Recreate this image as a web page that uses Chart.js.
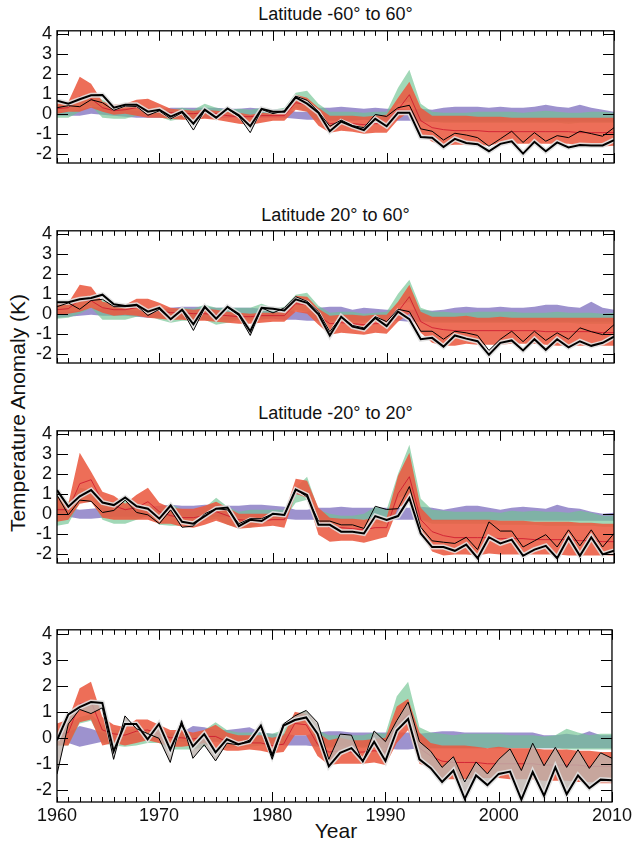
<!DOCTYPE html>
<html>
<head>
<meta charset="utf-8">
<script src="https://cdn.jsdelivr.net/npm/chart.js@4.4.1/dist/chart.umd.min.js"></script>
<style>
  body { margin: 0; background: #fff; }
  #page { position: relative; width: 635px; height: 844px; font-family: "Liberation Sans", Arial, sans-serif; color: #111; }
  canvas { position: absolute; left: 0; }
  .ttl { position: absolute; left: 57px; width: 557px; text-align: center; font-size: 18px; line-height: 18px; }
  .axt { position: absolute; font-size: 21px; line-height: 24px; text-align: center; }
</style>
</head>
<body>
<div id="page">
  <div class="ttl" style="top:5px">Latitude -60° to 60°</div>
  <div class="ttl" style="top:206px">Latitude 20° to 60°</div>
  <div class="ttl" style="top:404px">Latitude -20° to 20°</div>
  <div class="axt" style="left:-132px; top:401px; width:300px; transform:rotate(-90deg)">Temperature Anomaly (K)</div>
  <div class="axt" style="left:236px; top:819px; width:200px">Year</div>
  <canvas id="c1" width="635" height="198" style="top:15px"></canvas>
  <canvas id="c2" width="635" height="198" style="top:215px"></canvas>
  <canvas id="c3" width="635" height="198" style="top:415px"></canvas>
  <canvas id="c4" width="635" height="228" style="top:614px"></canvas>
</div>
<script>
// years on the x axis (one point per year)
var years = [];
for (var yr = 1961; yr <= 2010; yr++) years.push(yr);

var xTickVals = [1961, 1970, 1980, 1990, 2000, 2010];
var xTickLabels = ['1960', '1970', '1980', '1990', '2000', '2010'];
var yTickVals = [-2, -1, 0, 1, 2, 3, 4];

// ---- Latitude -60 to 60 ----
var p1Thick = [0.65,0.5,0.72,0.92,0.93,0.3,0.45,0.45,0.1,0.2,
  -0.15,0.1,-0.5,0.2,-0.2,0.26,-0.08,-0.63,0.24,0.1,
  0.1,0.82,0.5,0.05,-0.88,-0.39,-0.63,-0.82,-0.26,-0.63,
  0.05,0.05,-1.17,-1.2,-1.67,-1.26,-1.47,-1.53,-1.88,-1.51,
  -1.38,-2.0,-1.41,-1.88,-1.44,-1.69,-1.57,-1.59,-1.59,-1.32];
var p1Thin = [0.3,0.4,0.35,0.7,0.55,0.17,0.38,0.36,-0.08,0.14,
  -0.26,0.05,-0.82,0.17,-0.2,0.24,-0.14,-0.95,0.21,0.0,
  0.14,0.88,0.67,0.1,-0.63,-0.32,-0.6,-0.7,-0.04,-0.14,
  0.3,0.42,-0.76,-0.88,-1.32,-0.98,-1.07,-1.2,-1.63,-1.26,
  -0.88,-1.44,-0.95,-1.38,-1.1,-1.2,-0.88,-1.0,-1.13,-0.7];
var p1PurLo = [-0.1,-0.1,-0.1,0.0,-0.05,-0.1,-0.15,-0.2,-0.2,-0.2,
  -0.2,-0.2,-0.25,-0.2,-0.25,-0.2,-0.2,-0.25,-0.2,-0.2,
  -0.2,-0.25,-0.3,-0.3,-0.35,-0.35,-0.35,-0.3,-0.35,-0.35,
  -0.35,-0.35,-0.4,-0.4,-0.4,-0.4,-0.4,-0.4,-0.4,-0.4,
  -0.4,-0.4,-0.4,-0.4,-0.4,-0.4,-0.4,-0.4,-0.4,-0.4];
var p1PurHi = [0.1,0.1,0.2,0.35,0.3,0.2,0.2,0.15,0.15,0.2,
  0.3,0.3,0.3,0.3,0.3,0.25,0.25,0.3,0.25,0.2,
  0.25,0.1,0.1,0.3,0.3,0.35,0.3,0.25,0.3,0.25,
  0.25,0.2,0.25,0.2,0.3,0.35,0.35,0.35,0.3,0.35,
  0.3,0.3,0.35,0.45,0.35,0.3,0.45,0.3,0.2,0.1];
var p1GrnLo = [-0.2,-0.2,0.1,0.4,-0.2,-0.25,-0.25,-0.1,0.0,-0.15,
  -0.35,-0.25,-0.25,-0.15,0.0,-0.1,-0.2,-0.3,-0.15,-0.1,
  -0.05,0.3,0.1,-0.4,-0.3,-0.3,-0.3,-0.3,-0.3,-0.3,
  0.5,0.6,-0.35,-0.4,-0.45,-0.45,-0.45,-0.45,-0.45,-0.45,
  -0.45,-0.45,-0.45,-0.45,-0.45,-0.5,-0.45,-0.45,-0.45,-0.45];
var p1GrnHi = [0.5,0.5,0.8,1.0,0.7,0.4,0.45,0.5,0.3,0.3,
  0.2,0.3,0.2,0.5,0.3,0.2,0.25,0.2,0.3,0.2,
  0.3,1.05,1.15,0.5,0.1,0.1,0.1,0.05,0.1,0.1,
  1.3,2.2,0.5,0.1,0.05,0.05,0.05,0.1,0.1,0.1,
  0.1,0.05,0.1,0.15,0.1,0.05,0.05,0.1,0.1,0.05];
var p1RedLo = [0.0,0.1,0.1,0.3,0.1,-0.05,0.0,-0.1,-0.2,-0.2,
  -0.25,-0.3,-0.3,-0.25,-0.3,-0.4,-0.5,-0.55,-0.45,-0.35,
  -0.35,0.2,0.1,-0.6,-0.95,-0.85,-0.9,-1.0,-0.95,-0.95,
  -0.3,0.1,-1.0,-1.4,-1.6,-1.55,-1.55,-1.55,-1.6,-1.45,
  -1.5,-1.5,-1.5,-1.5,-1.5,-1.5,-1.6,-1.6,-1.65,-1.6];
var p1RedHi = [0.5,0.6,1.85,1.5,0.6,0.45,0.5,0.7,0.75,0.5,
  0.25,0.2,0.15,0.2,0.15,0.1,0.05,-0.05,0.05,0.0,
  0.1,0.95,0.8,0.3,-0.1,-0.1,-0.1,-0.15,-0.1,-0.05,
  0.8,1.6,0.3,-0.1,-0.1,-0.1,-0.1,-0.15,-0.15,-0.15,
  -0.2,-0.2,-0.2,-0.2,-0.2,-0.2,-0.2,-0.2,-0.2,-0.2];
var p1RedMid = [0.25,0.3,0.85,0.75,0.3,0.15,0.2,0.3,0.2,0.15,
  0.05,0.0,0.0,0.05,0.0,-0.1,-0.15,-0.15,-0.1,-0.1,
  -0.1,0.55,0.45,-0.1,-0.5,-0.45,-0.5,-0.55,-0.5,-0.5,
  0.2,0.95,-0.35,-0.7,-0.8,-0.85,-0.85,-0.85,-0.9,-0.9,
  -0.9,-0.9,-0.9,-0.9,-0.9,-0.9,-0.95,-0.95,-0.95,-0.95];

// ---- Latitude 20 to 60 ----
var p2Thick = [0.57,0.57,0.72,0.79,0.95,0.47,0.39,0.44,0.1,0.29,
  -0.28,0.2,-0.53,0.35,-0.25,0.35,-0.03,-0.88,0.29,0.25,
  0.16,0.72,0.54,-0.03,-1.09,-0.15,-0.65,-0.78,-0.21,-0.62,
  0.1,-0.28,-1.28,-1.21,-1.65,-1.09,-1.25,-1.38,-2.06,-1.46,
  -1.34,-1.84,-1.28,-1.81,-1.28,-1.69,-1.38,-1.61,-1.46,-1.15];
var p2Thin = [0.35,0.54,0.22,0.66,0.72,0.35,0.35,0.41,-0.09,0.22,
  -0.28,0.2,-0.84,0.29,-0.28,0.31,-0.09,-1.09,0.29,0.04,
  0.29,0.85,0.62,0.1,-0.9,-0.15,-0.59,-0.71,-0.15,-0.4,
  0.22,0.1,-0.88,-0.88,-1.28,-0.88,-0.96,-1.09,-1.84,-1.28,
  -0.88,-1.4,-0.88,-1.34,-0.96,-1.28,-0.71,-0.9,-1.05,-0.55];
var p2PurLo = [-0.2,-0.15,-0.1,-0.05,-0.1,-0.1,-0.1,-0.15,-0.2,-0.2,
  -0.2,-0.25,-0.3,-0.3,-0.3,-0.3,-0.25,-0.25,-0.25,-0.25,
  -0.3,-0.3,-0.35,-0.35,-0.35,-0.35,-0.35,-0.35,-0.35,-0.35,
  -0.35,-0.4,-0.4,-0.4,-0.4,-0.4,-0.4,-0.4,-0.4,-0.4,
  -0.4,-0.4,-0.4,-0.4,-0.4,-0.4,-0.4,-0.4,-0.4,-0.4];
var p2PurHi = [0.1,0.1,0.15,0.3,0.25,0.2,0.2,0.15,0.2,0.2,
  0.3,0.35,0.35,0.35,0.3,0.3,0.3,0.3,0.25,0.25,
  0.25,0.1,0.1,0.3,0.35,0.35,0.2,0.3,0.25,0.2,
  0.2,0.2,0.2,0.15,0.2,0.3,0.35,0.3,0.3,0.35,
  0.3,0.3,0.35,0.45,0.45,0.35,0.3,0.6,0.3,0.2];
var p2GrnLo = [-0.25,-0.2,0.0,0.3,-0.3,-0.3,-0.3,-0.15,-0.1,-0.3,
  -0.45,-0.35,-0.35,-0.3,-0.55,-0.45,-0.3,-0.35,-0.3,-0.2,
  -0.15,0.2,0.1,-0.4,-0.45,-0.3,-0.45,-0.45,-0.3,-0.3,
  0.4,0.6,-0.3,-0.45,-0.45,-0.45,-0.45,-0.45,-0.45,-0.45,
  -0.45,-0.45,-0.45,-0.45,-0.45,-0.45,-0.5,-0.5,-0.5,-0.5];
var p2GrnHi = [0.5,0.5,0.6,0.8,0.7,0.4,0.45,0.4,0.3,0.3,
  0.2,0.3,0.25,0.45,0.3,0.3,0.3,0.3,0.5,0.3,
  0.35,0.95,1.05,0.4,0.05,0.1,0.1,0.0,0.05,0.1,
  1.0,1.7,0.3,0.1,0.1,0.05,0.05,0.1,0.1,0.1,
  0.1,0.05,0.05,0.05,0.1,0.05,0.05,0.05,0.0,0.05];
var p2RedLo = [-0.05,0.0,0.1,0.3,0.05,-0.1,-0.05,-0.1,-0.2,-0.25,
  -0.3,-0.3,-0.35,-0.35,-0.4,-0.45,-0.5,-0.5,-0.45,-0.4,
  -0.4,0.1,0.0,-0.55,-1.05,-0.95,-1.0,-1.05,-0.95,-1.0,
  -0.4,0.0,-0.95,-1.45,-1.6,-1.6,-1.5,-1.55,-1.55,-1.55,
  -1.5,-1.5,-1.5,-1.55,-1.6,-1.6,-1.6,-1.6,-1.6,-1.6];
var p2RedHi = [0.5,0.55,1.45,1.35,0.6,0.5,0.45,0.75,0.75,0.55,
  0.3,0.25,0.2,0.25,0.2,0.1,0.05,0.0,0.05,0.05,
  0.1,0.9,0.85,0.25,-0.1,-0.05,-0.05,-0.1,-0.05,-0.05,
  0.6,1.45,0.1,-0.15,-0.15,-0.15,-0.1,-0.2,-0.2,-0.15,
  -0.2,-0.2,-0.2,-0.2,-0.2,-0.2,-0.2,-0.2,-0.2,-0.2];
var p2RedMid = [0.2,0.25,0.7,0.65,0.3,0.2,0.2,0.3,0.2,0.15,
  0.05,0.05,0.0,0.0,-0.05,-0.1,-0.15,-0.15,-0.1,-0.1,
  -0.1,0.5,0.45,-0.1,-0.5,-0.45,-0.5,-0.55,-0.5,-0.5,
  0.1,0.85,-0.4,-0.7,-0.8,-0.85,-0.85,-0.85,-0.85,-0.85,
  -0.85,-0.85,-0.85,-0.9,-0.9,-0.9,-0.9,-0.9,-0.95,-0.95];

// ---- Latitude -20 to 20 ----
var p3Thick = [1.18,0.35,0.87,1.18,0.56,0.43,0.81,0.37,0.25,-0.25,
  0.41,-0.41,-0.5,-0.12,0.25,0.31,-0.62,-0.31,-0.37,0.0,
  -0.06,1.2,0.93,-0.56,-0.56,-0.9,-0.9,-0.99,-0.12,-0.31,
  -0.12,0.78,-0.99,-1.67,-1.67,-1.86,-1.55,-2.23,-1.18,-1.49,
  -1.3,-2.11,-1.8,-1.61,-2.23,-1.18,-2.11,-1.18,-2.04,-1.86];
var p3Thin = [0.93,-0.06,0.68,0.62,0.06,0.16,0.68,0.06,-0.06,-0.5,
  0.19,-0.68,-0.62,0.0,0.25,0.19,-0.5,-0.25,-0.25,0.0,
  -0.06,1.24,0.83,-0.37,-0.37,-0.56,-0.56,-0.74,0.37,0.21,
  0.25,1.36,-0.68,-1.36,-1.43,-1.49,-1.18,-1.8,-0.41,-0.87,
  -0.87,-1.67,-1.36,-1.05,-1.67,-0.81,-1.61,-0.81,-1.67,-0.99];
var p3PurLo = [-0.1,-0.15,-0.25,-0.25,-0.2,-0.15,-0.15,-0.15,-0.15,-0.15,
  -0.15,-0.15,-0.15,-0.15,-0.15,-0.15,-0.2,-0.2,-0.2,-0.2,
  -0.25,-0.3,-0.3,-0.3,-0.3,-0.3,-0.3,-0.3,-0.3,-0.3,
  -0.3,-0.3,-0.3,-0.35,-0.35,-0.35,-0.35,-0.35,-0.35,-0.35,
  -0.35,-0.35,-0.35,-0.35,-0.35,-0.35,-0.35,-0.35,-0.35,-0.35];
var p3PurHi = [0.3,0.3,0.2,0.25,0.3,0.3,0.3,0.35,0.35,0.4,
  0.45,0.4,0.4,0.45,0.45,0.4,0.4,0.45,0.45,0.4,
  0.35,0.2,0.2,0.3,0.3,0.35,0.3,0.3,0.3,0.3,
  0.3,0.3,0.35,0.3,0.2,0.3,0.4,0.4,0.3,0.2,
  0.3,0.35,0.3,0.25,0.45,0.3,0.25,0.1,0.0,0.05];
var p3GrnLo = [-0.6,-0.5,0.55,0.7,-0.3,-0.5,-0.5,-0.3,-0.1,-0.55,
  -0.6,-0.6,-0.55,-0.35,-0.25,-0.55,-0.7,-0.7,-0.5,-0.3,
  -0.25,0.55,0.7,-0.6,-0.6,-0.5,-0.55,-0.6,-0.45,-0.5,
  0.8,1.0,-0.3,-0.5,-0.5,-0.5,-0.5,-0.5,-0.5,-0.55,
  -0.55,-0.55,-0.55,-0.6,-0.6,-0.6,-0.6,-0.6,-0.65,-0.65];
var p3GrnHi = [0.9,0.6,1.3,1.2,0.7,0.6,0.8,0.5,0.4,0.2,
  0.5,0.2,0.1,0.3,0.8,0.35,0.1,0.2,0.2,0.2,
  0.2,1.3,1.85,0.2,0.0,-0.1,-0.1,0.0,0.35,0.2,
  2.0,3.45,0.75,0.2,0.15,0.1,0.1,0.1,0.1,0.05,
  0.15,0.1,0.15,0.1,0.1,0.05,0.15,0.05,-0.1,-0.1];
var p3RedLo = [-0.4,-0.3,0.5,0.6,-0.2,-0.3,-0.3,-0.3,-0.3,-0.5,
  -0.5,-0.65,-0.7,-0.55,-0.35,-0.55,-0.75,-0.7,-0.65,-0.6,
  -0.7,1.0,0.8,-1.05,-1.4,-1.35,-1.35,-1.45,-1.3,-1.15,
  0.3,0.6,-1.0,-1.9,-2.1,-2.05,-2.05,-2.1,-2.0,-2.05,
  -2.05,-2.05,-2.05,-2.05,-2.05,-2.1,-2.1,-2.1,-2.1,-2.1];
var p3RedHi = [0.9,0.5,3.05,2.1,1.1,0.9,0.5,0.95,1.3,0.55,
  0.3,0.25,0.25,0.4,0.6,0.3,0.0,0.0,0.0,0.0,
  0.0,1.75,1.65,0.3,-0.2,-0.25,-0.25,-0.3,-0.2,-0.2,
  1.9,3.05,0.3,-0.3,-0.3,-0.3,-0.3,-0.3,-0.3,-0.35,
  -0.35,-0.35,-0.4,-0.4,-0.4,-0.4,-0.45,-0.45,-0.5,-0.5];
var p3RedMid = [0.2,0.2,1.5,1.7,0.6,0.4,0.2,0.3,0.6,0.1,
  -0.1,-0.2,-0.2,-0.1,0.1,-0.1,-0.3,-0.35,-0.35,-0.3,
  -0.3,1.0,1.0,-0.4,-0.7,-0.7,-0.75,-0.8,-0.7,-0.7,
  1.0,1.85,-0.3,-0.9,-1.1,-1.2,-1.2,-1.2,-1.2,-1.25,
  -1.25,-1.25,-1.3,-1.3,-1.3,-1.3,-1.35,-1.35,-1.4,-1.4];

// ---- bottom panel ----
var p4Thick = [-0.1,0.9,1.18,1.37,1.34,-0.52,0.53,0.53,-0.06,0.53,
  -0.46,0.53,-0.33,0.14,-0.56,-0.06,-0.25,-0.15,0.47,-0.68,
  0.47,0.68,0.78,0.16,-1.1,-0.58,-0.4,-0.89,-0.15,-0.89,
  0.28,0.72,-0.83,-1.17,-1.7,-1.26,-2.35,-1.45,-1.82,-1.39,
  -1.3,-2.38,-1.32,-2.23,-1.14,-2.17,-1.45,-1.94,-1.61,-1.63];
var p4Thin = [-1.4,0.53,1.09,0.93,1.15,-0.83,0.84,0.35,0.16,-0.02,
  -0.95,0.66,-0.79,-0.27,-0.89,-0.21,-0.27,-0.09,0.43,-0.83,
  0.53,0.84,1.05,0.59,-0.83,0.14,0.1,-0.95,0.26,-0.15,
  0.66,1.37,-0.15,-0.52,-1.14,-0.73,-1.7,-0.93,-1.39,-0.83,
  -0.43,-1.26,-0.21,-1.08,-0.37,-1.14,-0.46,-1.18,-0.58,-0.79];
var p4PurLo = [-0.1,-0.2,-0.35,-0.25,-0.15,-0.15,-0.1,-0.1,-0.1,-0.1,
  -0.1,-0.15,-0.15,-0.15,-0.15,-0.15,-0.2,-0.2,-0.2,-0.25,
  -0.3,-0.3,-0.3,-0.35,-0.35,-0.35,-0.35,-0.35,-0.35,-0.4,
  -0.45,-0.45,-0.4,-0.4,-0.4,-0.4,-0.4,-0.4,-0.4,-0.4,
  -0.4,-0.4,-0.4,-0.4,-0.4,-0.4,-0.4,-0.4,-0.4,-0.4];
var p4PurHi = [0.1,0.2,0.45,0.35,0.2,0.2,0.15,0.15,0.2,0.15,
  0.15,0.2,0.45,0.4,0.3,0.3,0.35,0.4,0.2,0.15,
  0.15,0.1,0.1,0.2,0.25,0.25,0.2,0.2,0.2,0.2,
  0.2,0.2,0.15,0.2,0.25,0.25,0.2,0.2,0.2,0.2,
  0.2,0.2,0.2,0.1,0.1,0.15,0.1,0.25,0.1,0.1];
var p4GrnLo = [-0.3,-0.3,0.55,0.65,-0.2,-0.3,-0.35,-0.3,-0.2,-0.2,
  -0.45,-0.45,-0.45,-0.35,-0.1,-0.4,-0.35,-0.35,-0.3,-0.3,
  -0.25,0.5,0.6,-0.35,-0.4,-0.3,-0.3,-0.4,-0.3,-0.3,
  0.3,0.6,-0.3,-0.4,-0.4,-0.4,-0.4,-0.4,-0.4,-0.4,
  -0.4,-0.4,-0.4,-0.4,-0.4,-0.45,-0.45,-0.45,-0.45,-0.45];
var p4GrnHi = [0.3,0.5,0.8,0.9,0.5,0.3,0.3,0.35,0.3,0.3,
  0.2,0.2,0.1,0.3,0.6,0.3,0.2,0.2,0.2,0.15,
  0.3,0.9,1.05,0.3,0.1,0.1,0.1,0.1,0.2,0.15,
  1.6,2.15,0.4,0.2,0.15,0.1,0.15,0.15,0.15,0.15,
  0.1,0.1,0.1,0.05,0.1,0.35,0.2,0.1,0.15,0.15];
var p4RedLo = [-0.3,-0.3,0.6,0.7,-0.3,-0.2,-0.3,-0.2,-0.1,-0.2,
  -0.35,-0.35,-0.3,-0.2,-0.4,-0.5,-0.5,-0.45,-0.5,-0.6,
  -0.55,0.1,0.1,-0.7,-1.05,-1.0,-1.0,-1.0,-0.95,-1.05,
  -0.2,0.3,-1.0,-1.15,-1.6,-1.6,-1.6,-1.55,-1.55,-1.55,
  -1.6,-1.6,-1.6,-1.65,-1.65,-1.65,-1.7,-1.7,-1.75,-1.75];
var p4RedHi = [0.55,0.7,1.9,2.15,0.8,0.5,0.4,0.7,0.7,0.5,
  0.3,0.3,0.2,0.3,0.5,0.2,0.1,0.1,0.1,0.0,
  0.1,1.0,0.9,0.2,-0.1,0.0,-0.1,-0.1,-0.05,0.0,
  1.2,1.5,0.2,-0.2,-0.3,-0.3,-0.3,-0.35,-0.4,-0.35,
  -0.4,-0.4,-0.4,-0.45,-0.45,-0.45,-0.5,-0.5,-0.55,-0.55];
var p4RedMid = [0.1,0.2,1.3,1.4,0.3,0.15,0.1,0.25,0.3,0.15,
  0.0,0.0,-0.05,0.05,0.05,-0.15,-0.2,-0.2,-0.2,-0.3,
  -0.25,0.55,0.5,-0.25,-0.55,-0.5,-0.55,-0.55,-0.5,-0.55,
  0.5,0.9,-0.4,-0.7,-0.9,-0.95,-0.95,-0.95,-1.0,-1.0,
  -1.0,-1.0,-1.0,-1.05,-1.05,-1.05,-1.05,-1.1,-1.1,-1.1];

var panels = [
  { id: 'c1', thick: p1Thick, thin: p1Thin, purLo: p1PurLo, purHi: p1PurHi, grnLo: p1GrnLo, grnHi: p1GrnHi, redLo: p1RedLo, redHi: p1RedHi, redMid: p1RedMid, greyFill: false },
  { id: 'c2', thick: p2Thick, thin: p2Thin, purLo: p2PurLo, purHi: p2PurHi, grnLo: p2GrnLo, grnHi: p2GrnHi, redLo: p2RedLo, redHi: p2RedHi, redMid: p2RedMid, greyFill: false },
  { id: 'c3', thick: p3Thick, thin: p3Thin, purLo: p3PurLo, purHi: p3PurHi, grnLo: p3GrnLo, grnHi: p3GrnHi, redLo: p3RedLo, redHi: p3RedHi, redMid: p3RedMid, greyFill: false },
  { id: 'c4', thick: p4Thick, thin: p4Thin, purLo: p4PurLo, purHi: p4PurHi, grnLo: p4GrnLo, grnHi: p4GrnHi, redLo: p4RedLo, redHi: p4RedHi, redMid: p4RedMid, greyFill: true }
];

var tickFont = { family: '"Liberation Sans", Arial, sans-serif', size: 18 };
var clear = 'rgba(0,0,0,0)';

function pts(arr) {
  return arr.map(function (v, i) { return { x: years[i], y: v }; });
}

function band(lo, hi, color, order) {
  return [
    { data: pts(lo), borderColor: clear, borderWidth: 0, pointRadius: 0, fill: false, order: order },
    { data: pts(hi), borderColor: clear, borderWidth: 0, pointRadius: 0, fill: '-1', backgroundColor: color, order: order }
  ];
}

// box + inward ticks like the original plot
var frame = {
  id: 'frame',
  afterDraw: function (chart) {
    var ctx = chart.ctx, a = chart.chartArea, x = chart.scales.x, y = chart.scales.y;
    ctx.save();
    ctx.strokeStyle = '#000';
    ctx.lineWidth = 1.3;
    ctx.strokeRect(a.left, a.top, a.right - a.left, a.bottom - a.top);
    ctx.beginPath();
    ctx.lineWidth = 1;
    years.forEach(function (yr) {
      var px = Math.round(x.getPixelForValue(yr)) + 0.5;
      var len = yr % 10 === 0 ? 10 : 5;
      ctx.moveTo(px, a.bottom); ctx.lineTo(px, a.bottom - len);
      ctx.moveTo(px, a.top); ctx.lineTo(px, a.top + len);
    });
    yTickVals.forEach(function (v) {
      var py = Math.round(y.getPixelForValue(v)) + 0.5;
      ctx.moveTo(a.left, py); ctx.lineTo(a.left + 11, py);
      ctx.moveTo(a.right, py); ctx.lineTo(a.right - 11, py);
    });
    ctx.stroke();
    ctx.restore();
  }
};

panels.forEach(function (p, idx) {
  var last = idx === panels.length - 1;
  var ds = [];
  ds = ds.concat(band(p.purLo, p.purHi, 'rgba(115,100,185,0.7)', 10));
  ds = ds.concat(band(p.grnLo, p.grnHi, 'rgba(110,195,145,0.65)', 9));
  ds = ds.concat(band(p.redLo, p.redHi, 'rgba(235,90,65,0.88)', 8));
  ds.push({ data: pts(p.redMid), borderColor: 'rgba(200,10,40,0.9)', borderWidth: 0.8, pointRadius: 0, fill: false, order: 6 });
  ds.push({ data: pts(p.thin), borderColor: '#000', borderWidth: 1, pointRadius: 0, fill: false, order: 2 });
  ds.push({ data: pts(p.thick), borderColor: 'rgba(225,225,225,0.9)', borderWidth: 5, pointRadius: 0,
    fill: p.greyFill ? '-1' : false, backgroundColor: 'rgba(190,180,175,0.8)', order: 4 });
  ds.push({ data: pts(p.thick), borderColor: '#000', borderWidth: 2, pointRadius: 0, fill: false, order: 1 });

  new Chart(document.getElementById(p.id), {
    type: 'line',
    data: { datasets: ds },
    options: {
      responsive: false,
      animation: false,
      events: [],
      layout: { padding: { left: 0, right: 21, top: 10, bottom: last ? 0 : 10 } },
      plugins: { legend: { display: false }, tooltip: { enabled: false } },
      scales: {
        x: {
          type: 'linear', min: 1961, max: 2010, display: last,
          afterFit: function (s) { s.height = 40; },
          afterBuildTicks: function (s) { s.ticks = xTickVals.map(function (v) { return { value: v }; }); },
          grid: { display: false, drawTicks: false },
          border: { display: false },
          ticks: {
            maxRotation: 0, autoSkip: false, padding: 3, color: '#111', font: tickFont,
            callback: function (v) { return xTickLabels[xTickVals.indexOf(v)]; }
          }
        },
        y: {
          min: -2.47, max: 4.15,
          afterFit: function (s) { s.width = 57; },
          afterBuildTicks: function (s) { s.ticks = yTickVals.map(function (v) { return { value: v }; }); },
          grid: { display: false, drawTicks: false },
          border: { display: false },
          ticks: { padding: 5, autoSkip: false, color: '#111', font: tickFont }
        }
      }
    },
    plugins: [frame]
  });
});
</script>
</body>
</html>
